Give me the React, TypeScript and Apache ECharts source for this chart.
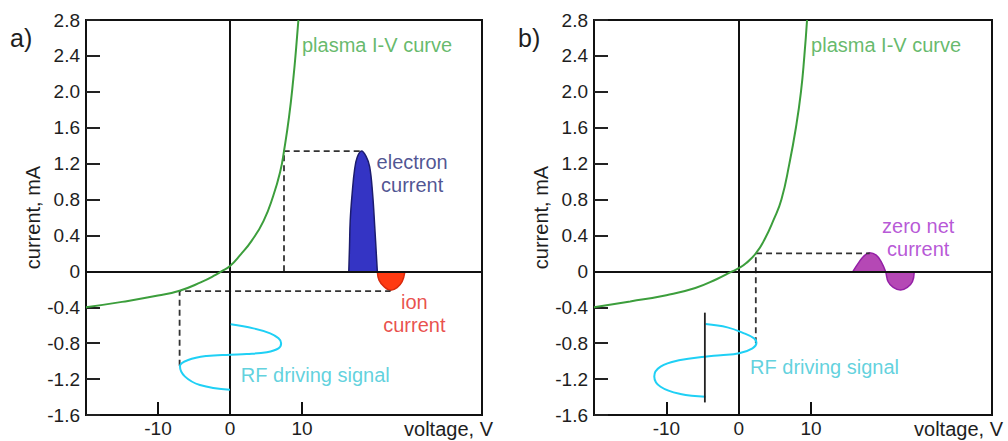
import React, { useEffect, useRef } from 'react';
import * as echarts from 'echarts';

// ---------- data ----------
const voltageTickValues = [-10, 10];
const voltageLabelValues = [-10, 0, 10];

// plasma I-V curve [voltage V, current mA]
const ivCurveA = [
  [-20, -0.4], [-15, -0.34], [-10, -0.27], [-7, -0.216], [-4, -0.12], [-2, -0.04],
  [-1.2, 0], [0, 0.06], [1.5, 0.19], [3, 0.34], [4.65, 0.56], [6, 0.84], [7, 1.12],
  [7.5, 1.34], [8.2, 1.72], [8.8, 2.15], [9.2, 2.5], [9.5, 2.8],
];
const ivCurveB = [
  [-20, -0.4], [-15, -0.335], [-10, -0.265], [-6, -0.185], [-3, -0.085], [-0.9, 0],
  [0, 0.035], [1, 0.09], [2.36, 0.2], [3.6, 0.36], [4.8, 0.57], [5.9, 0.8], [7.0, 1.2],
  [7.9, 1.6], [8.6, 2.0], [9.07, 2.4], [9.44, 2.8],
];

// RF driving signal (voltage swing drawn downward in time)
const rfSignalA = [
  [0.1, -0.59], [3.25, -0.635], [5.58, -0.69], [6.74, -0.746], [7.1, -0.8], [6.74, -0.857],
  [5.12, -0.9], [2.32, -0.921], [0, -0.928], [-3.25, -0.943], [-5.81, -0.988], [-6.95, -1.055],
  [-6.28, -1.17], [-4.18, -1.266], [0, -1.32],
];
const rfSignalB = [
  [-4.58, -0.587], [-1.57, -0.624], [0.74, -0.69], [2.13, -0.746], [2.45, -0.795], [1.9, -0.857],
  [0.05, -0.913], [-2.5, -0.935], [-4.68, -0.95], [-8.06, -0.988], [-10.8, -1.062], [-11.67, -1.17],
  [-10.8, -1.285], [-8.06, -1.366], [-4.58, -1.396],
];
const rfBiasB = [[-4.68, -0.46], [-4.68, -1.46]];

// resulting probe currents
const electronCurrentA = [
  [16.5, 0], [16.6, 0.28], [16.7, 0.57], [16.97, 0.87], [17.3, 1.13], [17.67, 1.27], [18.27, 1.34],
  [18.9, 1.28], [19.4, 1.165], [19.8, 0.87], [20.1, 0.5], [20.46, 0],
];
const ionCurrentA = [
  [20.46, 0], [20.7, -0.097], [21.4, -0.17], [22.3, -0.21], [23.2, -0.18], [23.9, -0.116], [24.3, 0],
];
const netCurrentB = [
  [15.79, 0], [16.5, 0.089], [17.2, 0.163], [18.1, 0.207], [19.0, 0.18], [19.7, 0.107], [20.28, 0],
  [20.65, -0.116], [21.35, -0.178], [22.36, -0.208], [23.3, -0.178], [24.0, -0.116], [24.26, 0],
];

// projection guides
const guideA1 = [[7.5, 0], [7.5, 1.34], [18.3, 1.34]];
const guideA2 = [[-7, -1.05], [-7, -0.22], [22.3, -0.22]];
const guideB = [[2.36, -0.8], [2.36, 0.2], [18.1, 0.2]];

// annotations (anchor in data coordinates)
const annotationsA = [
  { key: 'iv', text: 'plasma I-V curve', v: 10.0, i: 2.52 },
  { key: 'electron', text: 'electron\ncurrent', v: 25.3, i: 1.09 },
  { key: 'ion', text: 'ion\ncurrent', v: 25.6, i: -0.47 },
  { key: 'rf', text: 'RF driving signal', v: 1.5, i: -1.155 },
];
const annotationsB = [
  { key: 'iv', text: 'plasma I-V curve', v: 10.0, i: 2.52 },
  { key: 'net', text: 'zero net\ncurrent', v: 24.8, i: 0.374 },
  { key: 'rf', text: 'RF driving signal', v: 1.57, i: -1.062 },
];

// ---------- styles ----------
const FONT = "'Liberation Sans', Arial, Helvetica, sans-serif";
const AXIS = '#111';
const TEXT = '#1e1e1e';
const labelStyles: Record<string, { color: string; align: string }> = {
  iv: { color: '#3ea746', align: 'left' },
  electron: { color: '#1f2877', align: 'center' },
  ion: { color: '#e3231b', align: 'center' },
  rf: { color: '#38c6d5', align: 'left' },
  net: { color: '#a52ccc', align: 'center' },
};

function axesFor(idx: number) {
  const xAxis = {
    gridIndex: idx,
    type: 'value',
    min: -20,
    max: 35,
    position: 'bottom',
    axisLine: { show: true, onZero: false, lineStyle: { color: AXIS, width: 2 } },
    axisTick: { show: true, inside: true, length: 13, customValues: voltageTickValues, lineStyle: { color: AXIS, width: 2 } },
    axisLabel: { show: true, customValues: voltageLabelValues, margin: 4, color: TEXT, fontSize: 19, fontFamily: FONT },
    splitLine: { show: false },
    name: 'voltage, V',
    nameLocation: 'end',
    nameGap: 11,
    nameTextStyle: { align: 'right', verticalAlign: 'top', padding: [4, 0, 0, 0], color: TEXT, fontSize: 20, fontFamily: FONT },
  };
  const yAxis = {
    gridIndex: idx,
    type: 'value',
    min: -1.6,
    max: 2.8,
    interval: 0.4,
    axisLine: { show: true, onZero: false, lineStyle: { color: AXIS, width: 2 } },
    axisTick: { show: true, inside: true, length: 14, lineStyle: { color: '#222', width: 2 } },
    axisLabel: {
      margin: 6,
      color: TEXT,
      fontSize: 19,
      fontFamily: FONT,
      formatter: (v: number) => (Math.abs(v) < 1e-9 ? '0' : v.toFixed(1)),
    },
    splitLine: { show: false },
    name: 'current, mA',
    nameLocation: 'middle',
    nameGap: 43,
    nameTextStyle: { color: TEXT, fontSize: 20, fontFamily: FONT },
  };
  return { xAxis, yAxis };
}

function lineSeries(idx: number, data: number[][], color: string, width: number, extra: any = {}) {
  return {
    type: 'line',
    xAxisIndex: idx,
    yAxisIndex: idx,
    data,
    symbol: 'none',
    silent: true,
    lineStyle: { color, width },
    ...extra,
  };
}

function zeroLines(idx: number) {
  return {
    type: 'line',
    xAxisIndex: idx,
    yAxisIndex: idx,
    data: [],
    symbol: 'none',
    silent: true,
    z: 6,
    markLine: {
      silent: true,
      symbol: ['none', 'none'],
      label: { show: false },
      lineStyle: { color: AXIS, width: 2, type: 'solid' },
      emphasis: { disabled: true },
      data: [{ xAxis: 0 }, { yAxis: 0 }],
    },
  };
}

function annotationSeries(idx: number, items: { key: string; text: string; v: number; i: number }[]) {
  return {
    type: 'scatter',
    xAxisIndex: idx,
    yAxisIndex: idx,
    symbolSize: 0,
    silent: true,
    z: 10,
    itemStyle: { color: 'transparent' },
    label: {
      show: true,
      position: [0, 0],
      verticalAlign: 'middle',
      fontSize: 20,
      lineHeight: 23,
      fontFamily: FONT,
    },
    data: items.map((a) => ({
      value: [a.v, a.i],
      label: { formatter: a.text, color: labelStyles[a.key].color, align: labelStyles[a.key].align },
    })),
  };
}

const dashed = { lineStyle: { color: '#333', width: 1.8, type: [6, 4] } };

export default function App() {
  const ref = useRef<HTMLDivElement>(null);
  useEffect(() => {
    if (!ref.current) return;
    const chart = echarts.init(ref.current, null, { renderer: 'svg' });
    const a = axesFor(0);
    const b = axesFor(1);
    const option: any = {
      animation: false,
      backgroundColor: '#fff',
      grid: [
        { left: 86, top: 20, width: 396, height: 395, show: true, borderColor: AXIS, borderWidth: 2, backgroundColor: 'transparent', outerBoundsMode: 'none' },
        { left: 594, top: 20, width: 398, height: 395, show: true, borderColor: AXIS, borderWidth: 2, backgroundColor: 'transparent', outerBoundsMode: 'none' },
      ],
      xAxis: [a.xAxis, b.xAxis],
      yAxis: [a.yAxis, b.yAxis],
      graphic: [
        { type: 'text', x: 10, y: 38, style: { text: 'a)', fontSize: 25, fontFamily: FONT, fill: TEXT, verticalAlign: 'middle' } },
        { type: 'text', x: 518, y: 38, style: { text: 'b)', fontSize: 25, fontFamily: FONT, fill: TEXT, verticalAlign: 'middle' } },
      ],
      series: [
        // panel a
        lineSeries(0, electronCurrentA, '#1c1c6e', 1.5, { smooth: 0.4, areaStyle: { color: '#3434c4', opacity: 1, origin: 'auto' }, z: 3 }),
        lineSeries(0, ionCurrentA, '#d8290c', 1.5, { smooth: 0.4, areaStyle: { color: '#ff3a12', opacity: 1, origin: 'auto' }, z: 3 }),
        zeroLines(0),
        lineSeries(0, guideA1, '#333', 1.8, { ...dashed, z: 4 }),
        lineSeries(0, guideA2, '#333', 1.8, { ...dashed, z: 4 }),
        lineSeries(0, ivCurveA, '#3c9e3c', 2, { smooth: 0.5, z: 7 }),
        lineSeries(0, rfSignalA, '#1fd0f5', 2, { smooth: 0.4, z: 7 }),
        annotationSeries(0, annotationsA),
        // panel b
        lineSeries(1, netCurrentB, '#9420a6', 1.5, { smooth: 0.4, areaStyle: { color: '#b548b5', opacity: 1, origin: 'auto' }, z: 3 }),
        zeroLines(1),
        lineSeries(1, guideB, '#333', 1.8, { ...dashed, z: 4 }),
        lineSeries(1, ivCurveB, '#3c9e3c', 2, { smooth: 0.5, z: 7 }),
        lineSeries(1, rfSignalB, '#1fd0f5', 2, { smooth: 0.4, z: 7 }),
        lineSeries(1, rfBiasB, '#222', 1.8, { z: 8 }),
        annotationSeries(1, annotationsB),
      ],
    };
    chart.setOption(option);
    return () => chart.dispose();
  }, []);
  return <div ref={ref} style={{ position: 'absolute', left: 0, top: 0, width: 1008, height: 441 }} />;
}
